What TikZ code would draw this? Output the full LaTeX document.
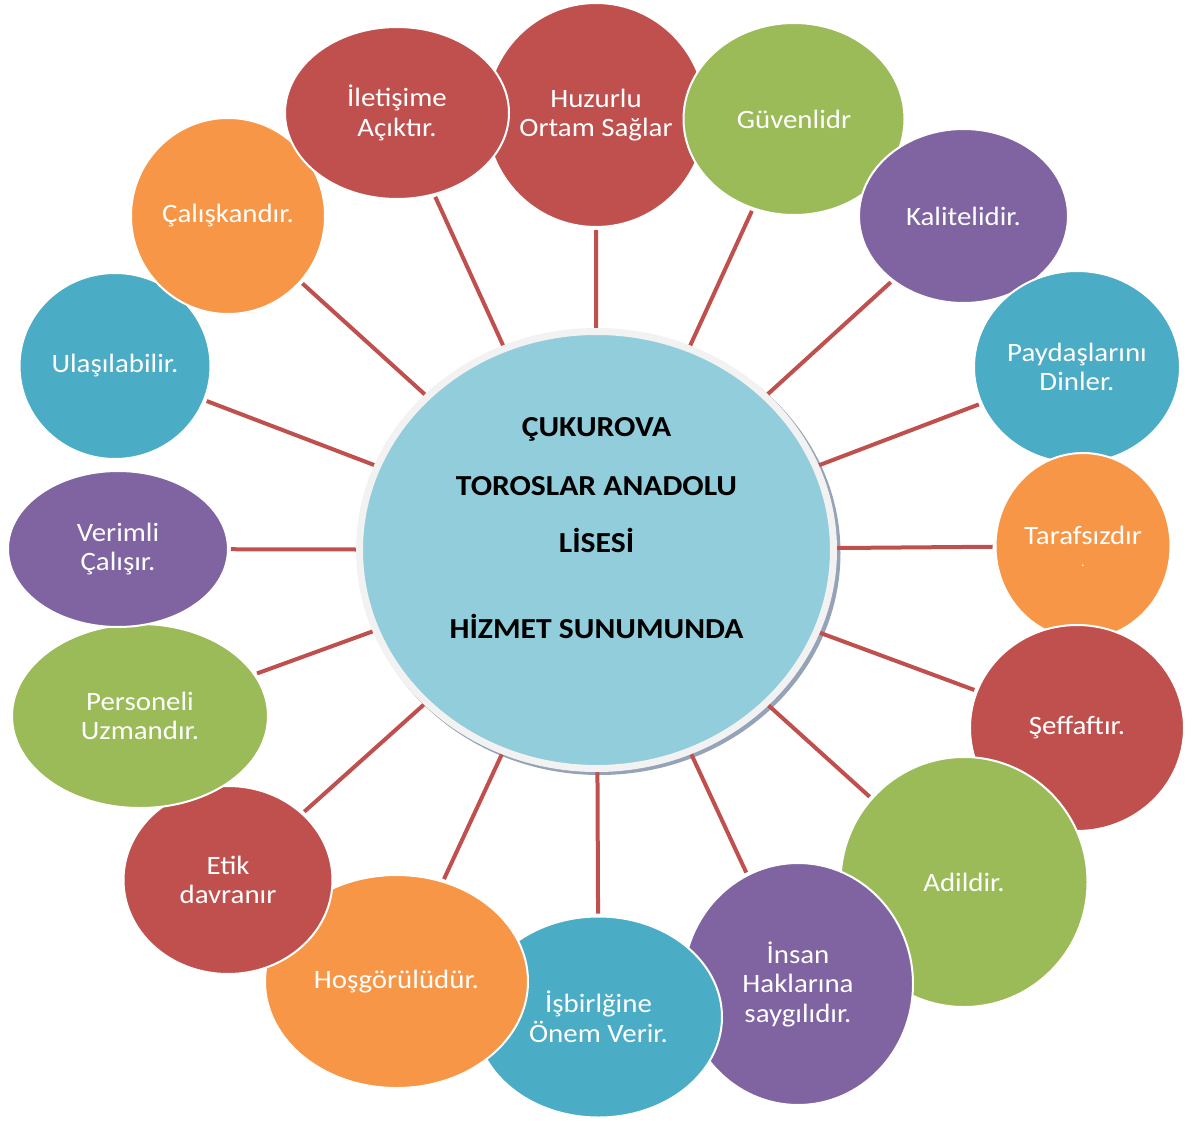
\documentclass[tikz,border=0pt]{standalone}
\usepackage{fontspec}
\setmainfont{Carlito}[FakeStretch=1.09]
\usetikzlibrary{shapes.geometric}
\definecolor{cred}{HTML}{C0504D}
\definecolor{cgreen}{HTML}{9BBB59}
\definecolor{cpurple}{HTML}{8064A2}
\definecolor{cblue}{HTML}{4BACC6}
\definecolor{corange}{HTML}{F79646}
\definecolor{ccentre}{HTML}{92CDDC}
\definecolor{cring}{HTML}{F2F2F2}
\definecolor{cshadow}{HTML}{95A3B8}
\definecolor{cspoke}{HTML}{C0504D}
\pgfdeclarelayer{bg}
\pgfsetlayers{bg,main}
\tikzset{
  bubble/.style={ellipse, draw=white, line width=2pt, text=white, align=center,
    inner sep=-14pt, font=\fontsize{26.5}{29.5}\selectfont},
  centre/.style={ellipse, fill=ccentre, draw=cring, line width=7pt, inner sep=0pt,
    minimum width=474pt, minimum height=437pt},
  centretext/.style={anchor=base, text=black, inner sep=0pt,
    font=\bfseries\fontsize{29}{32}\selectfont},
  spoke/.style={draw=cspoke, line width=4pt, shorten >=2pt}
}
\begin{document}
\begin{tikzpicture}[x=1pt,y=-1pt]
\useasboundingbox (0,0) rectangle (1192,1121);
\node[centre] (c) at (596.5,550) {};
\node[centretext] (t1) at (596.5,436) {ÇUKUROVA};
\node[centretext] (t2) at (596.5,495) {TOROSLAR ANADOLU};
\node[centretext] (t3) at (596.5,552) {LİSESİ};
\node[centretext] (t4) at (596.5,638) {HİZMET SUNUMUNDA};
% outer bubbles, bottom of the stack first
\node[bubble, fill=cred,    minimum width=220pt, minimum height=224pt] (n1)  at (596,115)  {Huzurlu\\Ortam Sağlar};
\node[bubble, fill=cgreen,  minimum width=221pt, minimum height=192pt] (n2)  at (794,119)  {Güvenlidr};
\node[bubble, fill=cpurple, minimum width=209pt, minimum height=174pt] (n3)  at (963.5,216) {Kalitelidir.};
\node[bubble, fill=cblue,   minimum width=206pt, minimum height=192pt] (n4)  at (1077,367) {Paydaşlarını\\Dinler.};
\node[bubble, fill=corange, minimum width=175pt, minimum height=186pt] (n5)  at (1083,546) {Tarafsızdır\\[-7.5pt]{\fontsize{13}{13}\selectfont .}};
\node[bubble, fill=cred,    minimum width=214pt, minimum height=206pt] (n6)  at (1077,728) {Şeffaftır.};
\node[bubble, fill=cgreen,  minimum width=247pt, minimum height=250pt] (n7)  at (964,882)  {Adildir.};
\node[bubble, fill=cpurple, minimum width=230pt, minimum height=242pt] (n8)  at (798,984)  {İnsan\\Haklarına\\saygılıdır.};
\node[bubble, fill=cblue,   minimum width=247pt, minimum height=201pt] (n9)  at (598.5,1017) {İşbirlğine\\Önem Verir.};
\node[bubble, fill=corange, minimum width=263pt, minimum height=213pt] (n10) at (396.5,981.5) {Hoşgörülüdür.};
\node[bubble, fill=cred,    minimum width=209pt, minimum height=188pt] (n11) at (228,880)  {Etik\\davranır};
\node[bubble, fill=cgreen,  minimum width=256pt, minimum height=184pt] (n12) at (140,716)  {Personeli\\Uzmandır.};
\node[bubble, fill=cpurple, minimum width=220pt, minimum height=156pt] (n13) at (118,549)  {Verimli\\Çalışır.};
\node[bubble, fill=cblue,   minimum width=191pt, minimum height=186pt] (n14) at (115,366)  {Ulaşılabilir.};
\node[bubble, fill=corange, minimum width=194pt, minimum height=196pt] (n15) at (228,216)  {Çalışkandır.};
\node[bubble, fill=cred,    minimum width=224pt, minimum height=172pt] (n16) at (397,113)  {İletişime\\Açıktır.};
\begin{pgfonlayer}{bg}
  \fill[cshadow] (599.5,553) ellipse [x radius=241pt, y radius=222pt];
  \foreach \i in {1,...,16} \draw[spoke] (c) -- (n\i);
\end{pgfonlayer}
\end{tikzpicture}
\end{document}
